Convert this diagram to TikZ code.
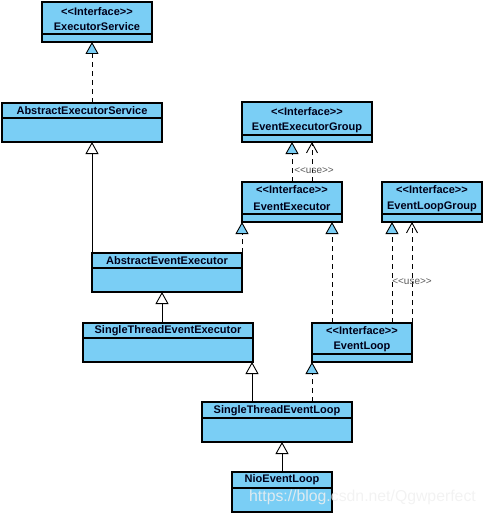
\documentclass[tikz,border=0pt]{standalone}
\usepackage{fontspec}
\setmainfont{Liberation Sans}[Ligatures=TeXOff]
\usetikzlibrary{arrows.meta}
\definecolor{boxblue}{RGB}{122,206,245}
\definecolor{usegray}{RGB}{90,90,90}
\newcommand{\stereo}[1]{<<#1>>}
\tikzset{
  cls/.style={draw, line width=1.1pt, fill=boxblue, anchor=north west, inner sep=0pt, outer sep=0pt},
  ttl/.style={font=\fontsize{11}{13}\selectfont\bfseries, text=black!90!blue, inner sep=0pt},
  realz/.style={line width=0.9pt, dash pattern=on 5pt off 4pt, -{Triangle[width=13pt,length=12pt,fill=boxblue,line width=0.9pt]}},
  gener/.style={line width=0.9pt, -{Triangle[width=13pt,length=12pt,fill=white,line width=0.9pt]}},
  usedep/.style={line width=0.9pt, dash pattern=on 5pt off 4pt, -{Straight Barb[width=11pt,length=10pt,line width=0.9pt]}},
  uselbl/.style={font=\fontsize{10}{12}\selectfont, text=usegray, inner sep=0pt},
  divider/.style={line width=1.1pt}
}
\begin{document}
\begin{tikzpicture}[x=1pt,y=-1pt]
\useasboundingbox (0,0) rectangle (486,516);
% ExecutorService
\node[cls, minimum width=110pt, minimum height=40pt] (es) at (42,2) {};
\draw[divider] (es.west |- 0,34) -- (es.east |- 0,34);
\node[ttl] (es1) at (97,12) {\stereo{Interface}};
\node[ttl] (es2) at (97,27) {ExecutorService};
% AbstractExecutorService
\node[cls, minimum width=160pt, minimum height=39pt] (aes) at (2,103) {};
\draw[divider] (aes.west |- 0,118) -- (aes.east |- 0,118);
\node[ttl] (aes1) at (82,111) {AbstractExecutorService};
% EventExecutorGroup
\node[cls, minimum width=130pt, minimum height=40pt] (eeg) at (242,102) {};
\draw[divider] (eeg.west |- 0,135) -- (eeg.east |- 0,135);
\node[ttl] (eeg1) at (307,112) {\stereo{Interface}};
\node[ttl] (eeg2) at (307,128) {EventExecutorGroup};
% EventExecutor
\node[cls, minimum width=100pt, minimum height=40pt] (ee) at (242,182) {};
\draw[divider] (ee.west |- 0,214) -- (ee.east |- 0,214);
\node[ttl] (ee1) at (292,190) {\stereo{Interface}};
\node[ttl] (ee2) at (292,207) {EventExecutor};
% EventLoopGroup
\node[cls, minimum width=100pt, minimum height=40pt] (elg) at (382,182) {};
\draw[divider] (elg.west |- 0,214) -- (elg.east |- 0,214);
\node[ttl] (elg1) at (432,190) {\stereo{Interface}};
\node[ttl] (elg2) at (432,207) {EventLoopGroup};
% AbstractEventExecutor
\node[cls, minimum width=150pt, minimum height=39pt] (aee) at (92,253) {};
\draw[divider] (aee.west |- 0,268) -- (aee.east |- 0,268);
\node[ttl] (aee1) at (167,261) {AbstractEventExecutor};
% SingleThreadEventExecutor
\node[cls, minimum width=170pt, minimum height=39pt] (stee) at (83,323) {};
\draw[divider] (stee.west |- 0,338) -- (stee.east |- 0,338);
\node[ttl] (stee1) at (168,331) {SingleThreadEventExecutor};
% EventLoop
\node[cls, minimum width=100pt, minimum height=39pt] (el) at (312,323) {};
\draw[divider] (el.west |- 0,354) -- (el.east |- 0,354);
\node[ttl] (el1) at (362,331) {\stereo{Interface}};
\node[ttl] (el2) at (362,347) {EventLoop};
% SingleThreadEventLoop
\node[cls, minimum width=150pt, minimum height=40pt] (stel) at (202,402) {};
\draw[divider] (stel.west |- 0,418) -- (stel.east |- 0,418);
\node[ttl] (stel1) at (277,411) {SingleThreadEventLoop};
% NioEventLoop
\node[cls, minimum width=100pt, minimum height=40pt] (nel) at (232,472) {};
\draw[divider] (nel.west |- 0,488) -- (nel.east |- 0,488);
\node[ttl] (nel1) at (282,480) {NioEventLoop};

% connectors
\draw[realz] (aes.north -| 92,0) -- (es.south -| 92,0);
\draw[gener] (aee.north west) -- (aes.south -| aee.north west);
\draw[realz] (aee.north east) -- (ee.south west);
\draw[realz] (ee.north -| 292,0) -- (eeg.south -| 292,0);
\draw[usedep] (ee.north -| 312,0) -- (eeg.south -| 312,0);
\node[uselbl] (use1) at (314,171) {\stereo{use}};
\draw[gener] (stee.north -| 162,0) -- (aee.south -| 162,0);
\draw[realz] (el.north -| 332,0) -- (ee.south -| 332,0);
\draw[realz] (el.north -| 392,0) -- (elg.south -| 392,0);
\draw[usedep] (el.north east) -- (elg.south -| el.north east);
\node[uselbl] (use2) at (412,282) {\stereo{use}};
\draw[gener] (stel.north -| 252,0) -- (stee.south -| 252,0);
\draw[realz] (stel.north -| el.south west) -- (el.south west);
\draw[gener] (nel.north) -- (stel.south -| nel.north);
% watermark
\node[font=\fontsize{15.8}{18}\selectfont, text=white!88!gray, text opacity=0.85, anchor=west, inner sep=0pt] (wm) at (249,497) {https://blog.csdn.net/Qgwperfect};
\end{tikzpicture}
\end{document}
